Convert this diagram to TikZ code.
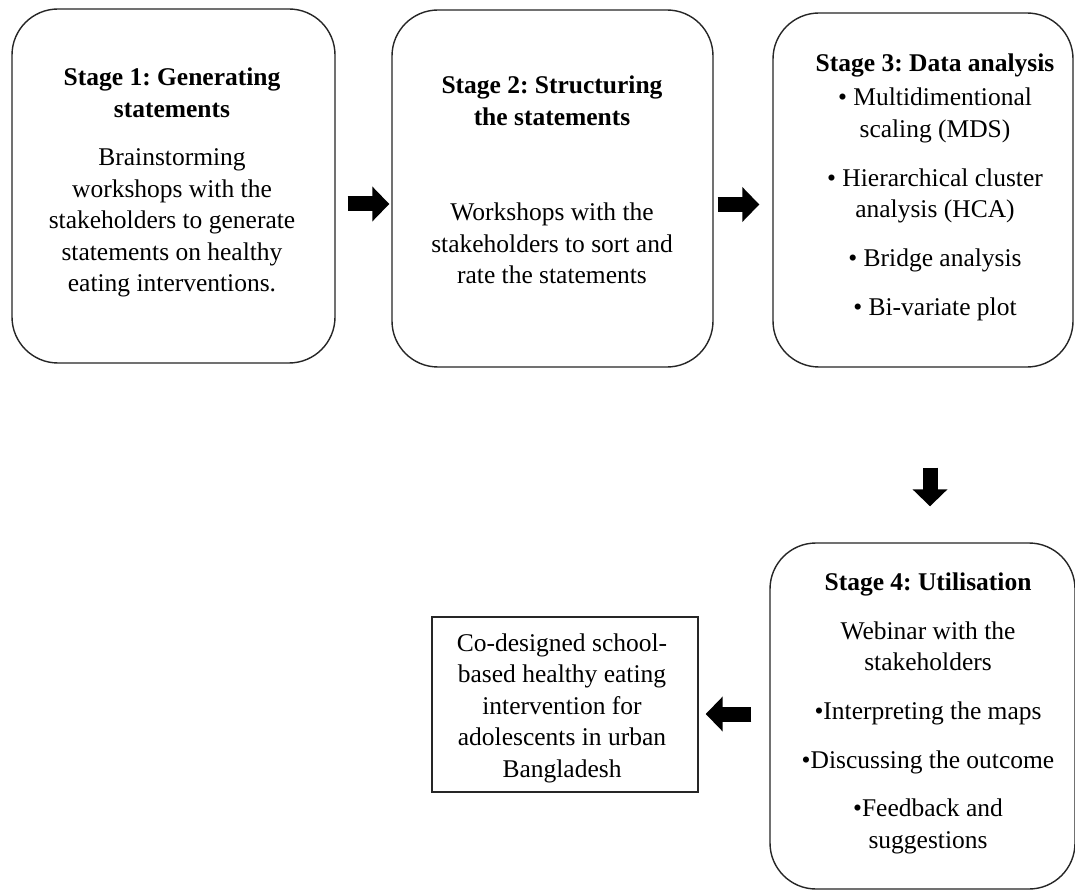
\documentclass[tikz,border=0pt]{standalone}
\usepackage{fontspec}
\setmainfont{Liberation Serif}
\frenchspacing
\usetikzlibrary{arrows.meta,calc}
\tikzset{
  stagebox/.style={draw=black!85, line width=1.4pt, rounded corners=46pt, inner sep=0pt},
  finalbox/.style={draw=black!85, line width=1.4pt, inner sep=0pt},
  txt/.style={inner sep=0pt, anchor=base, font={\fontsize{25.5}{31.5}\selectfont}},
  blockarrow/.style={line width=15pt, black, -{Triangle[length=17pt,width=34pt]}},
}
\begin{document}
\begin{tikzpicture}[x=1pt,y=-1pt]
\useasboundingbox (0,0) rectangle (1075,890);
\fill[white] (0,0) rectangle (1075,890);
% boxes
\node[stagebox, minimum width=323pt, minimum height=354pt] (b1) at (173.5,186) {};
\node[stagebox, minimum width=321pt, minimum height=357pt] (b2) at (552.5,188.5) {};
\node[stagebox, minimum width=300pt, minimum height=354pt] (b3) at (923,190) {};
\node[stagebox, minimum width=305pt, minimum height=346pt] (b4) at (922.5,716) {};
\node[finalbox, minimum width=266pt, minimum height=175pt] (fin) at (565,704.5) {};
% texts
\node[txt] (t1) at (172,86) {\begin{tabular}[t]{@{}c@{}}
\bfseries Stage 1: Generating\\
\bfseries statements\\[17pt]
Brainstorming\\
workshops with the\\
stakeholders to generate\\
statements on healthy\\
eating interventions.
\end{tabular}};
\node[txt] (t2) at (552,94) {\begin{tabular}[t]{@{}c@{}}
\bfseries Stage 2: Structuring\\
\bfseries the statements\\[64pt]
Workshops with the\\
stakeholders to sort and\\
rate the statements
\end{tabular}};
\node[txt] (t3) at (935,72) {\begin{tabular}[t]{@{}c@{}}
\bfseries Stage 3: Data analysis\\[2.5pt]
• Multidimentional\\
scaling (MDS)\\[17.5pt]
• Hierarchical cluster\\
analysis (HCA)\\[17.5pt]
• Bridge analysis\\[17pt]
• Bi-variate plot
\end{tabular}};
\node[txt] (t4) at (928,590) {\begin{tabular}[t]{@{}c@{}}
\bfseries Stage 4: Utilisation\\[17.5pt]
Webinar with the\\
stakeholders\\[17pt]
•Interpreting the maps\\[17.5pt]
•Discussing the outcome\\[17pt]
•Feedback and\\
suggestions
\end{tabular}};
\node[txt] (t5) at (562,651) {\begin{tabular}[t]{@{}c@{}}
Co-designed school-\\
based healthy eating\\
intervention for\\
adolescents in urban\\
Bangladesh
\end{tabular}};
% arrows
\draw[blockarrow, shorten <=12pt, shorten >=2pt] ([yshift=-18pt]b1.east) -- ([yshift=-18pt]b1.east -| b2.west);
\draw[blockarrow, shorten <=4pt, shorten >=13pt] ([yshift=-16pt]b2.east) -- ([yshift=-16pt]b2.east -| b3.west);
\draw[blockarrow, shorten <=100pt, shorten >=36pt] ([xshift=7pt]b3.south) -- ([xshift=7pt]b3.south |- b4.north);
\draw[blockarrow, shorten <=18pt, shorten >=7pt] ([yshift=2pt]b4.west) -- ([yshift=2pt]b4.west -| fin.east);
\end{tikzpicture}
\end{document}
